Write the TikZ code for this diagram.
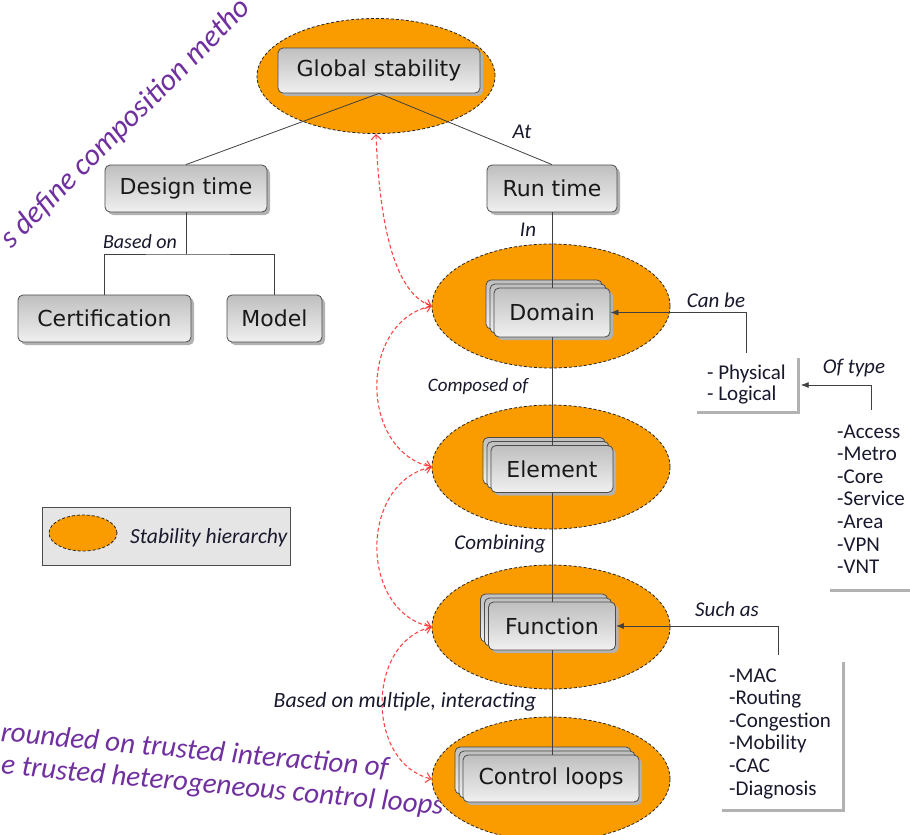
\documentclass[tikz,border=0pt]{standalone}
\usepackage{fontspec}
\setmainfont{DejaVu Sans}
\newfontfamily\carl{Carlito}
\usetikzlibrary{shapes.geometric,shadows,arrows.meta}
\definecolor{orng}{RGB}{250,155,0}
\definecolor{purp}{RGB}{112,48,160}
\definecolor{lbl}{RGB}{25,25,45}
\newcommand{\stackbox}[5]{%
  \node[bx, minimum width=#3, minimum height=#4, xshift=-8pt, yshift=8pt] (#1b2) at #2 {};
  \node[bx, minimum width=#3, minimum height=#4, xshift=-4pt, yshift=4pt] (#1b1) at #2 {};
  \node[bx, minimum width=#3, minimum height=#4] (#1) at #2 {#5};}
\begin{document}
\begin{tikzpicture}[x=1pt,y=-1pt,
  hier/.style={ellipse, draw=black!85, dash pattern=on 3pt off 2pt, line width=0.8pt, fill=orng, minimum width=238pt, minimum height=124pt, inner sep=0pt},
  bx/.style={rectangle, rounded corners=5pt, draw=black!70, line width=0.8pt, top color=black!25, bottom color=black!6, inner sep=0pt, font=\fontsize{22}{26}\selectfont, text=black!90, drop shadow={shadow xshift=3pt, shadow yshift=-3pt, fill=black!30, opacity=1}},
  lab/.style={font=\carl\itshape\fontsize{21}{24}\selectfont, text=lbl, inner sep=0pt},
  item/.style={font=\carl\fontsize{21}{23}\selectfont, text=lbl, inner sep=0pt, anchor=base west},
  ruleline/.style={draw=black!30, line width=3pt},
  conn/.style={draw=black!75, line width=0.8pt},
  tip/.style={-{Latex[length=8pt,width=6pt]}},
  redarr/.style={draw=red!85, opacity=0.85, dash pattern=on 4pt off 2.5pt, line width=1.1pt, {Straight Barb[length=5pt,width=10pt]}-{Straight Barb[length=5pt,width=10pt]}},
  purptext/.style={font=\carl\itshape\fontsize{29}{34}\selectfont, text=purp, inner sep=0pt}
]
\useasboundingbox (0,0) rectangle (910,835);
\fill[white] (0,0) rectangle (910,835);

% purple annotations
\node[purptext, rotate=45, font=\carl\itshape\fontsize{30.5}{34}\selectfont] (ptop) at (126,124) {s define composition metho};
\node[purptext, rotate=-5.3, anchor=base east] (pb1) at (388,777) {rounded on trusted interaction of};
\node[purptext, rotate=-5.3, anchor=base east] (pb2) at (443,815) {e trusted heterogeneous control loops};

% hierarchy ellipses
\node[hier, minimum height=115pt] (eg) at (376,76) {};
\node[hier] (ed) at (551,306) {};
\node[hier] (ee) at (551,467) {};
\node[hier] (ef) at (551,627) {};
\node[hier] (ec) at (551,779) {};

% red dashed relations
\draw[redarr] (eg.south) .. controls (379,215) and (392,292) .. (ed.west);
\draw[redarr] (ed.west) .. controls (359,322) and (359,450) .. (ee.west);
\draw[redarr] (ee.west) .. controls (359,483) and (359,611) .. (ef.west);
\draw[redarr] (ef.west) .. controls (366,643) and (366,763) .. (ec.west);

% boxes
\node[bx, minimum width=202pt, minimum height=45pt] (gs) at (379,70.5) {Global stability};
\node[bx, minimum width=162pt, minimum height=47pt] (dt) at (186,188.5) {Design time};
\node[bx, minimum width=130pt, minimum height=47pt] (rt) at (552,188.5) {Run time};
\node[bx, minimum width=173pt, minimum height=47pt] (cert) at (104.5,318.5) {Certification};
\node[bx, minimum width=95pt, minimum height=47pt] (mod) at (274.5,318.5) {Model};
\stackbox{dom}{(552,312.5)}{116pt}{49pt}{Domain}
\stackbox{elem}{(552,469)}{122pt}{47pt}{Element}
\stackbox{func}{(552,626)}{127pt}{48pt}{Function}
\stackbox{ctrl}{(551,778.5)}{176pt}{47pt}{Control loops}

% tree connectors
\draw[conn] (gs.south) -- (dt.north);
\draw[conn] (gs.south) -- (rt.north);
\coordinate (dtj) at (186,254);
\draw[conn] (dt.south) -- (dtj);
\draw[conn] (cert.north) |- (dtj) -| (mod.north);
\draw[conn] (rt.south) -- (dom.north);
\draw[conn] (dom.south) -- (elem.north);
\draw[conn] (elem.south) -- (func.north);
\draw[conn] (func.south) -- (func.south |- ctrl.north);

% side lists
\node[inner sep=0pt, minimum width=101pt, minimum height=54pt] (phys) at (747.5,385) {};
\draw[ruleline] (phys.north east) -- (phys.south east) -- (phys.south west);
\node[item] (ph1) at (707,379) {- Physical};
\node[item] (ph2) at (707,400) {- Logical};

\node[inner sep=0pt, minimum width=80pt, minimum height=170pt] (acc) at (870,505) {};
\draw[ruleline] (acc.south west) -- (acc.south east);
\node[item] (a1) at (837,438) {-Access};
\node[item] (a2) at (837,460.6) {-Metro};
\node[item] (a3) at (837,483.2) {-Core};
\node[item] (a4) at (837,505.8) {-Service};
\node[item] (a5) at (837,528.4) {-Area};
\node[item] (a6) at (837,551) {-VPN};
\node[item] (a7) at (837,573.6) {-VNT};

\node[inner sep=0pt, minimum width=121pt, minimum height=148pt] (mac) at (782.5,736) {};
\draw[ruleline] (mac.north east) -- (mac.south east) -- (mac.south west);
\node[item] (m1) at (729,682) {-MAC};
\node[item] (m2) at (729,704.6) {-Routing};
\node[item] (m3) at (729,727.2) {-Congestion};
\node[item] (m4) at (729,749.8) {-Mobility};
\node[item] (m5) at (729,772.4) {-CAC};
\node[item] (m6) at (729,795) {-Diagnosis};

% side connectors
\coordinate (cb) at (746,353);
\draw[conn, tip] (cb) |- (dom.east);
\coordinate (ot) at (871,410);
\draw[conn, tip, shorten >=2.5pt] (ot) |- (phys.east);
\coordinate (sa) at (778,655);
\draw[conn, tip] (sa) |- (func.east);

% labels
\node[lab] (lat) at (522,132) {At};
\node[lab] (lin) at (528,230) {In};
\node[lab, font=\carl\itshape\fontsize{20}{24}\selectfont] (lbo) at (140,242) {Based on};
\node[lab] (lcb) at (716,300) {Can be};
\node[lab] (lot) at (854,368) {Of type};
\node[lab, font=\carl\itshape\fontsize{19}{24}\selectfont] (lco) at (478,386) {Composed of};
\node[lab] (lcm) at (500,544) {Combining};
\node[lab] (lsa) at (727,609) {Such as};
\node[lab, font=\carl\itshape\fontsize{21.7}{24}\selectfont] (lbm) at (405,702) {Based on multiple, interacting};

% legend
\node[draw=black!70, fill=black!10, line width=1pt, minimum width=248pt, minimum height=58pt, inner sep=0pt] (leg) at (166,536) {};
\node[hier, minimum width=68pt, minimum height=36pt] (legell) at (83,533) {};
\node[lab, anchor=west, font=\carl\itshape\fontsize{21.6}{24}\selectfont] (legtxt) at (130,538) {Stability hierarchy};
\end{tikzpicture}
\end{document}
